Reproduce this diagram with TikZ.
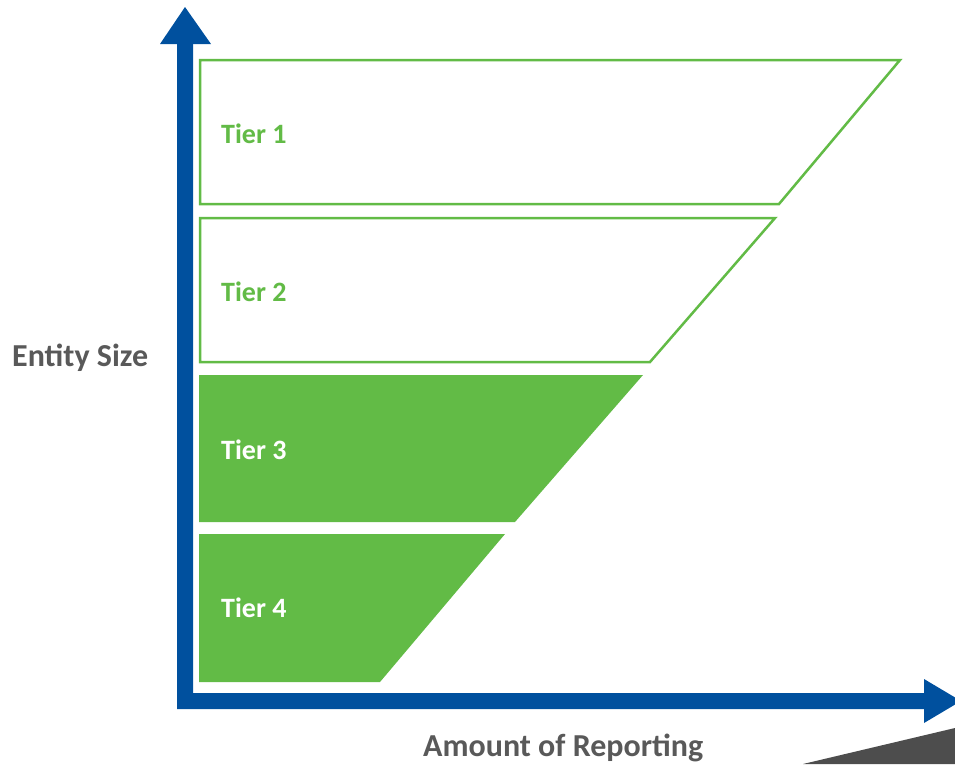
\documentclass[tikz,border=0pt]{standalone}
\usepackage{fontspec}
\setmainfont{Carlito}
\definecolor{axisblue}{HTML}{00509E}
\definecolor{tiergreen}{HTML}{62BB46}
\definecolor{labelgrey}{HTML}{595959}
\definecolor{wedgegrey}{HTML}{4D4D4D}
\begin{document}
\begin{tikzpicture}[x=1pt,y=-1pt,
  tierout/.style={draw=tiergreen,line width=2.5pt,fill=white,line join=miter},
  tierin/.style={fill=tiergreen},
  tiertext/.style={anchor=base west,inner sep=0pt,font=\fontsize{28}{32}\selectfont\bfseries},
  axislabel/.style={anchor=base west,inner sep=0pt,text=labelgrey,font=\fontsize{32}{36}\selectfont\bfseries}]
\useasboundingbox (0,0) rectangle (955,764);
\clip (0,0) rectangle (955,764);
% grey wedge
\fill[wedgegrey] (803,764) -- (955,728) -- (955,764) -- cycle;
% tiers
\draw[tierout] (200,60) -- (900,60) -- (779,204) -- (200,204) -- cycle;
\draw[tierout] (200,218) -- (775,218) -- (650,362) -- (200,362) -- cycle;
\fill[tierin] (199,375) -- (643,375) -- (515,522) -- (199,522) -- cycle;
\fill[tierin] (199,534) -- (505,534) -- (380,682) -- (199,682) -- cycle;
% axes
\fill[axisblue] (177,44) -- (193,44) -- (193,693) -- (924,693) -- (924,679) -- (961,701) -- (924,723) -- (924,709) -- (177,709) -- cycle;
\fill[axisblue] (160,44) -- (185,7) -- (211,44) -- cycle;
% texts
\node[tiertext,text=tiergreen] (t1) at (221,143) {Tier 1};
\node[tiertext,text=tiergreen] (t2) at (221,301) {Tier 2};
\node[tiertext,text=white] (t3) at (221,459) {Tier 3};
\node[tiertext,text=white] (t4) at (221,617) {Tier 4};
\node[axislabel] (ylab) at (12,366) {Entity Size};
\node[axislabel] (xlab) at (423,756) {Amount of Reporting};
\end{tikzpicture}
\end{document}
